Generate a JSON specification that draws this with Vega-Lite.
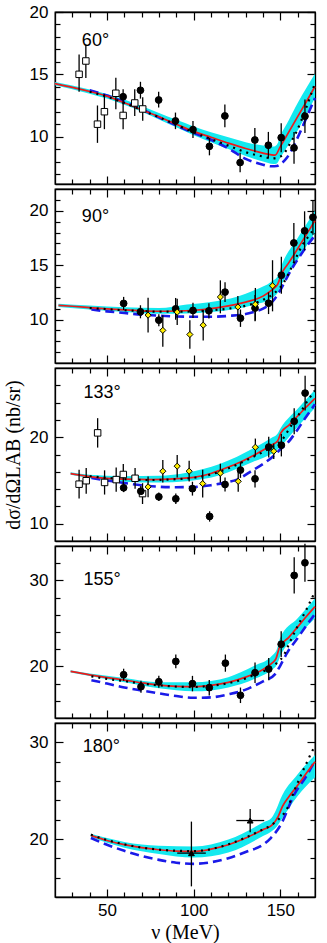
{
"$schema": "https://vega.github.io/schema/vega-lite/v6.json",
"padding": {"left": 2, "top": 2, "right": 0, "bottom": 0},
"spacing": 5,
"bounds": "flush",
"config": {
 "view": {"stroke": "black", "strokeWidth": 1.3},
 "axis": {"domainColor": "black", "domainWidth": 1.3, "tickColor": "black", "tickWidth": 1.2, "labelColor": "black", "labelFont": "Liberation Sans", "labelFontSize": 17, "labelFlush": false, "labelOverlap": false, "titleFont": "Liberation Serif, Times New Roman, serif", "titleFontSize": 20, "titleFontWeight": "normal", "titleColor": "black", "grid": false},
 "line": {"interpolate": "monotone"},
 "area": {"interpolate": "monotone"}
},
"datasets": {
 "band": [
  {"p":1,"x":20,"lo":14.13,"hi":14.38},{"p":1,"x":30,"lo":13.8,"hi":14.1},{"p":1,"x":40,"lo":13.45,"hi":13.78},{"p":1,"x":50,"lo":13.05,"hi":13.42},{"p":1,"x":60,"lo":12.55,"hi":12.97},{"p":1,"x":70,"lo":12.0,"hi":12.45},{"p":1,"x":80,"lo":11.38,"hi":11.9},{"p":1,"x":90,"lo":10.75,"hi":11.35},{"p":1,"x":100,"lo":10.12,"hi":10.82},{"p":1,"x":110,"lo":9.55,"hi":10.35},{"p":1,"x":120,"lo":9.0,"hi":9.95},{"p":1,"x":130,"lo":8.45,"hi":9.55},{"p":1,"x":140,"lo":8.0,"hi":9.28},{"p":1,"x":146,"lo":7.8,"hi":9.2},{"p":1,"x":148,"lo":7.85,"hi":9.35},{"p":1,"x":150,"lo":8.3,"hi":10.05},{"p":1,"x":155,"lo":9.4,"hi":11.35},{"p":1,"x":160,"lo":10.5,"hi":12.7},{"p":1,"x":165,"lo":11.8,"hi":13.9},{"p":1,"x":170,"lo":13.1,"hi":15.05},
  {"p":2,"x":22,"lo":11.15,"hi":11.45},{"p":2,"x":40,"lo":10.92,"hi":11.28},{"p":2,"x":60,"lo":10.7,"hi":11.12},{"p":2,"x":80,"lo":10.52,"hi":11.05},{"p":2,"x":96,"lo":10.55,"hi":11.38},{"p":2,"x":110,"lo":10.68,"hi":11.62},{"p":2,"x":125,"lo":10.98,"hi":12.1},{"p":2,"x":135,"lo":11.35,"hi":12.7},{"p":2,"x":145,"lo":11.95,"hi":13.5},{"p":2,"x":148.5,"lo":12.45,"hi":14.0},{"p":2,"x":151,"lo":13.3,"hi":15.1},{"p":2,"x":160,"lo":15.5,"hi":17.5},{"p":2,"x":170,"lo":18.0,"hi":20.0},
  {"p":3,"x":29,"lo":15.65,"hi":15.95},{"p":3,"x":40,"lo":15.25,"hi":15.65},{"p":3,"x":60,"lo":14.85,"hi":15.5},{"p":3,"x":80,"lo":14.75,"hi":15.55},{"p":3,"x":96,"lo":14.9,"hi":15.9},{"p":3,"x":115,"lo":15.6,"hi":16.9},{"p":3,"x":135,"lo":17.22,"hi":18.77},{"p":3,"x":145,"lo":18.1,"hi":19.95},{"p":3,"x":148,"lo":18.5,"hi":20.3},{"p":3,"x":150.3,"lo":18.95,"hi":21.1},{"p":3,"x":160,"lo":21.2,"hi":23.3},{"p":3,"x":170,"lo":23.4,"hi":25.5},
  {"p":4,"x":29,"lo":19.3,"hi":19.55},{"p":4,"x":40,"lo":18.87,"hi":19.17},{"p":4,"x":60,"lo":18.15,"hi":18.65},{"p":4,"x":80,"lo":17.45,"hi":18.15},{"p":4,"x":100,"lo":17.1,"hi":18.15},{"p":4,"x":120,"lo":17.55,"hi":18.75},{"p":4,"x":135,"lo":18.53,"hi":20.07},{"p":4,"x":145,"lo":19.6,"hi":21.2},{"p":4,"x":148,"lo":20.2,"hi":22.0},{"p":4,"x":150,"lo":21.2,"hi":23.36},{"p":4,"x":160,"lo":23.5,"hi":25.6},{"p":4,"x":170,"lo":25.6,"hi":27.9},
  {"p":5,"x":40.7,"lo":20.2,"hi":20.55},{"p":5,"x":50,"lo":19.6,"hi":20.1},{"p":5,"x":60,"lo":19.1,"hi":19.7},{"p":5,"x":80,"lo":18.45,"hi":19.3},{"p":5,"x":100,"lo":18.08,"hi":19.23},{"p":5,"x":120,"lo":18.6,"hi":19.95},{"p":5,"x":140,"lo":20.3,"hi":21.7},{"p":5,"x":145,"lo":20.8,"hi":22.2},{"p":5,"x":148,"lo":21.3,"hi":23.2},{"p":5,"x":150,"lo":21.83,"hi":24.1},{"p":5,"x":160,"lo":24.45,"hi":26.7},{"p":5,"x":170,"lo":26.4,"hi":28.7}
 ],
 "curves": [
  {"p":1,"c":"red","x":20,"y":14.25},{"p":1,"c":"red","x":30,"y":13.95},{"p":1,"c":"red","x":40,"y":13.62},{"p":1,"c":"red","x":50,"y":13.25},{"p":1,"c":"red","x":60,"y":12.72},{"p":1,"c":"red","x":70,"y":12.15},{"p":1,"c":"red","x":80,"y":11.6},{"p":1,"c":"red","x":90,"y":11.0},{"p":1,"c":"red","x":100,"y":10.42},{"p":1,"c":"red","x":110,"y":9.95},{"p":1,"c":"red","x":120,"y":9.48},{"p":1,"c":"red","x":130,"y":9.05},{"p":1,"c":"red","x":140,"y":8.68},{"p":1,"c":"red","x":145,"y":8.54},{"p":1,"c":"red","x":147,"y":8.52},{"p":1,"c":"red","x":150,"y":9.2},{"p":1,"c":"red","x":155,"y":10.4},{"p":1,"c":"red","x":160,"y":11.6},{"p":1,"c":"red","x":165,"y":12.8},{"p":1,"c":"red","x":170,"y":14.02},
  {"p":1,"c":"blue","x":40,"y":13.72},{"p":1,"c":"blue","x":50,"y":13.3},{"p":1,"c":"blue","x":60,"y":12.78},{"p":1,"c":"blue","x":70,"y":12.2},{"p":1,"c":"blue","x":80,"y":11.55},{"p":1,"c":"blue","x":90,"y":10.9},{"p":1,"c":"blue","x":100,"y":10.3},{"p":1,"c":"blue","x":110,"y":9.75},{"p":1,"c":"blue","x":120,"y":9.05},{"p":1,"c":"blue","x":130,"y":8.22},{"p":1,"c":"blue","x":140,"y":7.75},{"p":1,"c":"blue","x":145,"y":7.62},{"p":1,"c":"blue","x":148,"y":7.64},{"p":1,"c":"blue","x":151,"y":7.9},{"p":1,"c":"blue","x":154,"y":8.35},{"p":1,"c":"blue","x":160,"y":9.92},{"p":1,"c":"blue","x":165,"y":11.5},{"p":1,"c":"blue","x":170,"y":13.1},
  {"p":1,"c":"dot","x":40,"y":13.6},{"p":1,"c":"dot","x":50,"y":13.2},{"p":1,"c":"dot","x":60,"y":12.7},{"p":1,"c":"dot","x":70,"y":12.12},{"p":1,"c":"dot","x":80,"y":11.55},{"p":1,"c":"dot","x":90,"y":10.95},{"p":1,"c":"dot","x":100,"y":10.35},{"p":1,"c":"dot","x":110,"y":9.8},{"p":1,"c":"dot","x":120,"y":9.28},{"p":1,"c":"dot","x":130,"y":8.75},{"p":1,"c":"dot","x":140,"y":8.4},{"p":1,"c":"dot","x":145,"y":8.25},{"p":1,"c":"dot","x":148,"y":8.3},{"p":1,"c":"dot","x":152,"y":8.62},{"p":1,"c":"dot","x":155,"y":9.3},{"p":1,"c":"dot","x":159,"y":10.3},{"p":1,"c":"dot","x":165,"y":12.35},{"p":1,"c":"dot","x":170,"y":14.3},
  {"p":2,"c":"red","x":22,"y":11.3},{"p":2,"c":"red","x":30,"y":11.22},{"p":2,"c":"red","x":40,"y":11.1},{"p":2,"c":"red","x":50,"y":10.98},{"p":2,"c":"red","x":60,"y":10.88},{"p":2,"c":"red","x":70,"y":10.8},{"p":2,"c":"red","x":80,"y":10.76},{"p":2,"c":"red","x":90,"y":10.78},{"p":2,"c":"red","x":100,"y":10.85},{"p":2,"c":"red","x":110,"y":11.0},{"p":2,"c":"red","x":120,"y":11.25},{"p":2,"c":"red","x":130,"y":11.6},{"p":2,"c":"red","x":140,"y":12.15},{"p":2,"c":"red","x":145,"y":12.7},{"p":2,"c":"red","x":148.5,"y":13.25},{"p":2,"c":"red","x":151,"y":14.3},{"p":2,"c":"red","x":155,"y":15.25},{"p":2,"c":"red","x":160,"y":16.5},{"p":2,"c":"red","x":165,"y":17.8},{"p":2,"c":"red","x":170,"y":19.1},
  {"p":2,"c":"blue","x":41,"y":10.92},{"p":2,"c":"blue","x":50,"y":10.75},{"p":2,"c":"blue","x":60,"y":10.6},{"p":2,"c":"blue","x":70,"y":10.45},{"p":2,"c":"blue","x":80,"y":10.35},{"p":2,"c":"blue","x":90,"y":10.28},{"p":2,"c":"blue","x":100,"y":10.25},{"p":2,"c":"blue","x":110,"y":10.25},{"p":2,"c":"blue","x":120,"y":10.33},{"p":2,"c":"blue","x":130,"y":10.5},{"p":2,"c":"blue","x":135,"y":10.7},{"p":2,"c":"blue","x":140,"y":11.0},{"p":2,"c":"blue","x":146,"y":11.75},{"p":2,"c":"blue","x":150,"y":12.7},{"p":2,"c":"blue","x":152,"y":13.3},{"p":2,"c":"blue","x":156,"y":14.5},{"p":2,"c":"blue","x":162,"y":16.0},{"p":2,"c":"blue","x":170,"y":17.75},
  {"p":2,"c":"dot","x":40,"y":11.05},{"p":2,"c":"dot","x":50,"y":10.95},{"p":2,"c":"dot","x":60,"y":10.85},{"p":2,"c":"dot","x":70,"y":10.78},{"p":2,"c":"dot","x":80,"y":10.72},{"p":2,"c":"dot","x":90,"y":10.72},{"p":2,"c":"dot","x":100,"y":10.75},{"p":2,"c":"dot","x":110,"y":10.85},{"p":2,"c":"dot","x":120,"y":11.0},{"p":2,"c":"dot","x":130,"y":11.26},{"p":2,"c":"dot","x":140,"y":11.8},{"p":2,"c":"dot","x":145.5,"y":12.3},{"p":2,"c":"dot","x":152,"y":13.4},{"p":2,"c":"dot","x":156.5,"y":14.8},{"p":2,"c":"dot","x":162.8,"y":16.86},{"p":2,"c":"dot","x":167.6,"y":17.93},{"p":2,"c":"dot","x":170,"y":18.5},
  {"p":3,"c":"red","x":29,"y":15.8},{"p":3,"c":"red","x":40,"y":15.45},{"p":3,"c":"red","x":50,"y":15.25},{"p":3,"c":"red","x":60,"y":15.15},{"p":3,"c":"red","x":75,"y":15.1},{"p":3,"c":"red","x":90,"y":15.2},{"p":3,"c":"red","x":100,"y":15.35},{"p":3,"c":"red","x":110,"y":15.8},{"p":3,"c":"red","x":115.5,"y":16.2},{"p":3,"c":"red","x":125,"y":16.95},{"p":3,"c":"red","x":135,"y":17.95},{"p":3,"c":"red","x":145,"y":19.1},{"p":3,"c":"red","x":148.4,"y":19.55},{"p":3,"c":"red","x":150.3,"y":20.5},{"p":3,"c":"red","x":155,"y":21.4},{"p":3,"c":"red","x":160,"y":22.45},{"p":3,"c":"red","x":165,"y":23.5},{"p":3,"c":"red","x":170,"y":24.5},
  {"p":3,"c":"blue","x":41,"y":15.3},{"p":3,"c":"blue","x":50,"y":15.0},{"p":3,"c":"blue","x":60,"y":14.7},{"p":3,"c":"blue","x":70,"y":14.45},{"p":3,"c":"blue","x":80,"y":14.27},{"p":3,"c":"blue","x":90,"y":14.22},{"p":3,"c":"blue","x":100,"y":14.25},{"p":3,"c":"blue","x":110,"y":14.45},{"p":3,"c":"blue","x":118,"y":14.75},{"p":3,"c":"blue","x":125,"y":15.1},{"p":3,"c":"blue","x":135,"y":16.3},{"p":3,"c":"blue","x":140,"y":16.9},{"p":3,"c":"blue","x":147,"y":18.0},{"p":3,"c":"blue","x":150,"y":18.6},{"p":3,"c":"blue","x":154,"y":19.3},{"p":3,"c":"blue","x":160,"y":20.9},{"p":3,"c":"blue","x":165,"y":22.4},{"p":3,"c":"blue","x":170,"y":23.8},
  {"p":3,"c":"dot","x":40,"y":15.5},{"p":3,"c":"dot","x":50,"y":15.3},{"p":3,"c":"dot","x":60,"y":15.15},{"p":3,"c":"dot","x":75,"y":15.05},{"p":3,"c":"dot","x":90,"y":15.15},{"p":3,"c":"dot","x":100,"y":15.3},{"p":3,"c":"dot","x":110,"y":15.7},{"p":3,"c":"dot","x":120,"y":16.4},{"p":3,"c":"dot","x":130,"y":17.3},{"p":3,"c":"dot","x":140,"y":18.3},{"p":3,"c":"dot","x":145,"y":18.85},{"p":3,"c":"dot","x":148,"y":19.2},{"p":3,"c":"dot","x":151,"y":19.7},{"p":3,"c":"dot","x":154,"y":20.6},{"p":3,"c":"dot","x":158,"y":21.9},{"p":3,"c":"dot","x":162,"y":23.0},{"p":3,"c":"dot","x":166,"y":24.3},{"p":3,"c":"dot","x":170,"y":25.4},
  {"p":4,"c":"red","x":29,"y":19.42},{"p":4,"c":"red","x":40,"y":19.02},{"p":4,"c":"red","x":50,"y":18.7},{"p":4,"c":"red","x":60,"y":18.41},{"p":4,"c":"red","x":70,"y":18.1},{"p":4,"c":"red","x":80,"y":17.83},{"p":4,"c":"red","x":90,"y":17.68},{"p":4,"c":"red","x":100,"y":17.64},{"p":4,"c":"red","x":110,"y":17.8},{"p":4,"c":"red","x":120,"y":18.14},{"p":4,"c":"red","x":130,"y":18.75},{"p":4,"c":"red","x":135,"y":19.15},{"p":4,"c":"red","x":140,"y":19.65},{"p":4,"c":"red","x":145,"y":20.35},{"p":4,"c":"red","x":147.5,"y":20.9},{"p":4,"c":"red","x":149.5,"y":22.2},{"p":4,"c":"red","x":155,"y":23.4},{"p":4,"c":"red","x":160,"y":24.6},{"p":4,"c":"red","x":165,"y":25.8},{"p":4,"c":"red","x":170,"y":26.95},
  {"p":4,"c":"blue","x":41,"y":18.4},{"p":4,"c":"blue","x":50,"y":18.0},{"p":4,"c":"blue","x":60,"y":17.55},{"p":4,"c":"blue","x":70,"y":17.2},{"p":4,"c":"blue","x":80,"y":16.87},{"p":4,"c":"blue","x":90,"y":16.55},{"p":4,"c":"blue","x":100,"y":16.35},{"p":4,"c":"blue","x":110,"y":16.4},{"p":4,"c":"blue","x":120,"y":16.75},{"p":4,"c":"blue","x":130,"y":17.3},{"p":4,"c":"blue","x":135,"y":17.75},{"p":4,"c":"blue","x":140,"y":18.25},{"p":4,"c":"blue","x":147,"y":19.1},{"p":4,"c":"blue","x":150,"y":20.1},{"p":4,"c":"blue","x":154,"y":21.6},{"p":4,"c":"blue","x":160,"y":23.3},{"p":4,"c":"blue","x":165,"y":24.75},{"p":4,"c":"blue","x":170,"y":26.1},
  {"p":4,"c":"dot","x":41,"y":18.85},{"p":4,"c":"dot","x":50,"y":18.55},{"p":4,"c":"dot","x":60,"y":18.3},{"p":4,"c":"dot","x":70,"y":18.0},{"p":4,"c":"dot","x":80,"y":17.8},{"p":4,"c":"dot","x":90,"y":17.65},{"p":4,"c":"dot","x":100,"y":17.6},{"p":4,"c":"dot","x":110,"y":17.75},{"p":4,"c":"dot","x":120,"y":18.05},{"p":4,"c":"dot","x":130,"y":18.6},{"p":4,"c":"dot","x":135,"y":19.0},{"p":4,"c":"dot","x":143.5,"y":19.77},{"p":4,"c":"dot","x":148,"y":20.4},{"p":4,"c":"dot","x":152,"y":21.3},{"p":4,"c":"dot","x":155,"y":22.6},{"p":4,"c":"dot","x":159,"y":24.3},{"p":4,"c":"dot","x":165,"y":26.6},{"p":4,"c":"dot","x":170,"y":28.7},
  {"p":5,"c":"red","x":40.7,"y":20.38},{"p":5,"c":"red","x":50,"y":19.85},{"p":5,"c":"red","x":60,"y":19.41},{"p":5,"c":"red","x":70,"y":19.1},{"p":5,"c":"red","x":80,"y":18.89},{"p":5,"c":"red","x":90,"y":18.75},{"p":5,"c":"red","x":100,"y":18.71},{"p":5,"c":"red","x":110,"y":18.95},{"p":5,"c":"red","x":120,"y":19.41},{"p":5,"c":"red","x":130,"y":20.1},{"p":5,"c":"red","x":140,"y":20.97},{"p":5,"c":"red","x":145,"y":21.4},{"p":5,"c":"red","x":148.8,"y":22.35},{"p":5,"c":"red","x":151.3,"y":23.4},{"p":5,"c":"red","x":155,"y":24.4},{"p":5,"c":"red","x":160,"y":25.55},{"p":5,"c":"red","x":165,"y":26.8},{"p":5,"c":"red","x":170,"y":28.0},
  {"p":5,"c":"blue","x":40.7,"y":20.1},{"p":5,"c":"blue","x":50,"y":19.4},{"p":5,"c":"blue","x":60,"y":18.78},{"p":5,"c":"blue","x":70,"y":18.25},{"p":5,"c":"blue","x":80,"y":17.84},{"p":5,"c":"blue","x":90,"y":17.55},{"p":5,"c":"blue","x":100,"y":17.43},{"p":5,"c":"blue","x":110,"y":17.6},{"p":5,"c":"blue","x":120,"y":18.02},{"p":5,"c":"blue","x":130,"y":18.65},{"p":5,"c":"blue","x":140,"y":19.41},{"p":5,"c":"blue","x":144.5,"y":20.1},{"p":5,"c":"blue","x":150.3,"y":21.49},{"p":5,"c":"blue","x":158,"y":24.6},{"p":5,"c":"blue","x":165,"y":26.5},{"p":5,"c":"blue","x":170,"y":28.1},
  {"p":5,"c":"dot","x":40.7,"y":20.45},{"p":5,"c":"dot","x":50,"y":19.9},{"p":5,"c":"dot","x":60,"y":19.45},{"p":5,"c":"dot","x":80,"y":18.9},{"p":5,"c":"dot","x":100,"y":18.75},{"p":5,"c":"dot","x":120,"y":19.45},{"p":5,"c":"dot","x":130,"y":20.15},{"p":5,"c":"dot","x":140,"y":21.0},{"p":5,"c":"dot","x":145,"y":21.45},{"p":5,"c":"dot","x":149.3,"y":22.1},{"p":5,"c":"dot","x":154.2,"y":23.23},{"p":5,"c":"dot","x":158,"y":24.96},{"p":5,"c":"dot","x":163,"y":27.04},{"p":5,"c":"dot","x":165.3,"y":27.92},{"p":5,"c":"dot","x":168,"y":28.96},{"p":5,"c":"dot","x":170,"y":29.6}
 ],
 "pts": [
  {"p":1,"s":"sq","x":33.9,"y":15.0,"lo":13.6,"hi":16.6},{"p":1,"s":"sq","x":37.8,"y":16.07,"lo":14.7,"hi":17.4},{"p":1,"s":"sq","x":44.5,"y":11.0,"lo":9.5,"hi":12.5},{"p":1,"s":"sq","x":48.5,"y":12.0,"lo":10.6,"hi":13.4},{"p":1,"s":"sq","x":55.1,"y":13.48,"lo":12.2,"hi":14.73},{"p":1,"s":"sq","x":59.3,"y":11.7,"lo":10.6,"hi":12.8},{"p":1,"s":"sq","x":66.0,"y":12.7,"lo":11.65,"hi":13.8},{"p":1,"s":"sq","x":70.6,"y":12.22,"lo":11.27,"hi":13.17},
  {"p":1,"s":"circ","x":59.3,"y":13.2,"lo":12.6,"hi":13.8},{"p":1,"s":"circ","x":69.3,"y":13.72,"lo":13.05,"hi":14.4},{"p":1,"s":"circ","x":79.8,"y":12.94,"lo":12.33,"hi":13.6},{"p":1,"s":"circ","x":89.5,"y":11.26,"lo":10.6,"hi":11.93},{"p":1,"s":"circ","x":99.6,"y":10.57,"lo":9.9,"hi":11.25},{"p":1,"s":"circ","x":109.1,"y":9.22,"lo":8.5,"hi":9.9},{"p":1,"s":"circ","x":118.0,"y":11.66,"lo":10.76,"hi":12.58},{"p":1,"s":"circ","x":126.8,"y":7.92,"lo":7.15,"hi":8.7},{"p":1,"s":"circ","x":135.3,"y":9.73,"lo":8.75,"hi":10.7},{"p":1,"s":"circ","x":143.1,"y":9.31,"lo":8.25,"hi":10.38},{"p":1,"s":"circ","x":150.5,"y":9.92,"lo":8.75,"hi":11.08},{"p":1,"s":"circ","x":157.9,"y":9.1,"lo":7.83,"hi":10.37},{"p":1,"s":"circ","x":164.2,"y":11.64,"lo":10.3,"hi":12.98},
  {"p":2,"s":"circ","x":59.6,"y":11.48,"lo":10.88,"hi":12.08},{"p":2,"s":"circ","x":69.3,"y":10.71,"lo":10.11,"hi":11.31},{"p":2,"s":"circ","x":79.9,"y":9.94,"lo":9.39,"hi":10.49},{"p":2,"s":"circ","x":89.6,"y":10.98,"lo":9.98,"hi":11.98},{"p":2,"s":"circ","x":99.6,"y":10.83,"lo":10.13,"hi":11.53},{"p":2,"s":"circ","x":108.8,"y":10.8,"lo":10.1,"hi":11.5},{"p":2,"s":"circ","x":118.1,"y":12.52,"lo":11.62,"hi":13.42},{"p":2,"s":"circ","x":127.0,"y":10.12,"lo":9.32,"hi":10.92},{"p":2,"s":"circ","x":135.4,"y":11.05,"lo":9.85,"hi":12.25},{"p":2,"s":"circ","x":143.2,"y":11.5,"lo":10.5,"hi":12.5},{"p":2,"s":"circ","x":150.6,"y":14.07,"lo":12.37,"hi":15.77},{"p":2,"s":"circ","x":157.8,"y":17.04,"lo":15.2,"hi":18.88},{"p":2,"s":"circ","x":164.0,"y":18.15,"lo":16.35,"hi":19.95},{"p":2,"s":"circ","x":168.8,"y":19.4,"lo":17.8,"hi":21.0},
  {"p":2,"s":"dia","x":73.7,"y":10.4,"lo":8.8,"hi":12.0},{"p":2,"s":"dia","x":82.2,"y":9.0,"lo":7.5,"hi":10.4},{"p":2,"s":"dia","x":90.5,"y":10.68,"lo":9.5,"hi":11.9},{"p":2,"s":"dia","x":97.8,"y":8.62,"lo":7.32,"hi":9.92},{"p":2,"s":"dia","x":105.5,"y":9.48,"lo":8.08,"hi":10.88},{"p":2,"s":"dia","x":115.4,"y":12.07,"lo":10.57,"hi":13.6},{"p":2,"s":"dia","x":125.5,"y":11.15,"lo":10.15,"hi":12.15},{"p":2,"s":"dia","x":135.6,"y":11.4,"lo":9.9,"hi":12.9},{"p":2,"s":"dia","x":145.5,"y":13.1,"lo":10.75,"hi":15.45},
  {"p":3,"s":"sq","x":33.9,"y":14.57,"lo":12.9,"hi":16.25},{"p":3,"s":"sq","x":38.0,"y":14.97,"lo":13.45,"hi":16.45},{"p":3,"s":"sq","x":44.6,"y":20.5,"lo":18.8,"hi":22.2},{"p":3,"s":"sq","x":48.6,"y":14.77,"lo":13.37,"hi":16.17},{"p":3,"s":"sq","x":55.3,"y":15.1,"lo":13.7,"hi":16.5},{"p":3,"s":"sq","x":59.4,"y":15.69,"lo":14.49,"hi":16.89},{"p":3,"s":"sq","x":66.2,"y":15.25,"lo":14.05,"hi":16.45},{"p":3,"s":"sq","x":70.5,"y":13.48,"lo":12.28,"hi":14.68},
  {"p":3,"s":"circ","x":59.6,"y":14.15,"lo":13.65,"hi":14.65},{"p":3,"s":"circ","x":69.5,"y":13.75,"lo":13.15,"hi":14.35},{"p":3,"s":"circ","x":79.9,"y":13.11,"lo":12.61,"hi":13.61},{"p":3,"s":"circ","x":89.7,"y":12.88,"lo":12.28,"hi":13.48},{"p":3,"s":"circ","x":99.3,"y":14.05,"lo":13.25,"hi":14.85},{"p":3,"s":"circ","x":109.2,"y":10.84,"lo":10.24,"hi":11.44},{"p":3,"s":"circ","x":118.1,"y":14.53,"lo":13.73,"hi":15.33},{"p":3,"s":"circ","x":127.0,"y":16.2,"lo":15.3,"hi":17.1},{"p":3,"s":"circ","x":135.4,"y":15.19,"lo":14.19,"hi":16.19},{"p":3,"s":"circ","x":143.3,"y":18.86,"lo":17.66,"hi":20.06},{"p":3,"s":"circ","x":150.6,"y":19.08,"lo":17.78,"hi":20.38},{"p":3,"s":"circ","x":158.0,"y":21.84,"lo":20.34,"hi":23.34},{"p":3,"s":"circ","x":164.3,"y":25.1,"lo":23.1,"hi":27.1},
  {"p":3,"s":"dia","x":73.7,"y":14.26,"lo":13.06,"hi":15.46},{"p":3,"s":"dia","x":82.2,"y":16.07,"lo":14.77,"hi":17.37},{"p":3,"s":"dia","x":90.5,"y":16.65,"lo":15.35,"hi":17.95},{"p":3,"s":"dia","x":97.4,"y":16.07,"lo":14.87,"hi":17.27},{"p":3,"s":"dia","x":105.2,"y":14.63,"lo":13.03,"hi":16.23},{"p":3,"s":"dia","x":115.4,"y":15.84,"lo":14.74,"hi":16.94},{"p":3,"s":"dia","x":125.7,"y":14.9,"lo":13.7,"hi":16.1},{"p":3,"s":"dia","x":135.6,"y":18.84,"lo":17.84,"hi":19.84},{"p":3,"s":"dia","x":146.2,"y":18.38,"lo":17.48,"hi":19.28},
  {"p":4,"s":"circ","x":59.6,"y":19.03,"lo":18.33,"hi":19.73},{"p":4,"s":"circ","x":69.6,"y":17.64,"lo":16.94,"hi":18.34},{"p":4,"s":"circ","x":79.9,"y":18.22,"lo":17.52,"hi":18.92},{"p":4,"s":"circ","x":89.7,"y":20.58,"lo":19.78,"hi":21.38},{"p":4,"s":"circ","x":99.3,"y":18.0,"lo":17.1,"hi":18.9},{"p":4,"s":"circ","x":109.0,"y":17.53,"lo":16.63,"hi":18.43},{"p":4,"s":"circ","x":118.3,"y":20.38,"lo":19.38,"hi":21.38},{"p":4,"s":"circ","x":127.0,"y":16.64,"lo":15.74,"hi":17.54},{"p":4,"s":"circ","x":135.4,"y":19.26,"lo":18.06,"hi":20.46},{"p":4,"s":"circ","x":143.3,"y":19.69,"lo":18.39,"hi":20.99},{"p":4,"s":"circ","x":150.5,"y":22.58,"lo":21.08,"hi":24.08},{"p":4,"s":"circ","x":158.0,"y":30.58,"lo":28.48,"hi":32.68},{"p":4,"s":"circ","x":164.2,"y":32.05,"lo":29.85,"hi":34.25},
  {"p":5,"s":"tri","x":98.7,"y":18.54,"lo":15.1,"hi":21.8,"xlo":90.5,"xhi":107.0},{"p":5,"s":"tri","x":132.6,"y":21.91,"lo":20.7,"hi":23.1,"xlo":124.6,"xhi":140.7}
 ]
},
"vconcat": [
 {"width": 260, "height": 172,
  "layer": [
   {"data": {"name": "band"}, "transform": [{"filter": "datum.p == 1"}], "mark": {"type": "area", "color": "#14e9ef"},
    "encoding": {"x": {"field": "x", "type": "quantitative", "scale": {"domain": [20, 170], "nice": false, "zero": false}, "axis": {"orient": "bottom", "values": [30,40,50,60,70,80,90,100,110,120,130,140,150,160], "labels": false, "tickSize": {"condition": {"test": "datum.value % 50 === 0", "value": -8}, "value": -5}, "title": null}},
                 "y": {"field": "lo", "type": "quantitative", "scale": {"domain": [6.2, 20], "nice": false, "zero": false}, "axis": {"orient": "left", "values": [7,8,9,10,11,12,13,14,15,16,17,18,19,20], "labelExpr": "datum.value % 5 === 0 ? datum.label : ''", "labelPadding": 15, "tickSize": {"condition": {"test": "datum.value % 5 === 0", "value": -8}, "value": -5}, "title": null}},
                 "y2": {"field": "hi"}}},
   {"data": {"name": "curves"}, "transform": [{"filter": "datum.p == 1 && datum.c == 'blue'"}], "mark": {"type": "line", "color": "#1a1ae8", "strokeWidth": 2.6, "strokeDash": [9, 5]},
    "encoding": {"x": {"field": "x", "type": "quantitative", "axis": {"orient": "top", "values": [30,40,50,60,70,80,90,100,110,120,130,140,150,160], "labels": false, "tickSize": {"condition": {"test": "datum.value % 50 === 0", "value": -8}, "value": -5}, "title": null}},
                 "y": {"field": "y", "type": "quantitative", "axis": {"orient": "right", "values": [7,8,9,10,11,12,13,14,15,16,17,18,19,20], "labels": false, "tickSize": {"condition": {"test": "datum.value % 5 === 0", "value": -8}, "value": -5}, "title": null}}}},
   {"data": {"name": "curves"}, "transform": [{"filter": "datum.p == 1 && datum.c == 'red'"}], "mark": {"type": "line", "color": "#ee1a1a", "strokeWidth": 1.7},
    "encoding": {"x": {"field": "x", "type": "quantitative", "axis": null}, "y": {"field": "y", "type": "quantitative", "axis": null}}},
   {"data": {"name": "curves"}, "transform": [{"filter": "datum.p == 1 && datum.c == 'dot'"}], "mark": {"type": "line", "color": "black", "strokeWidth": 2.2, "strokeDash": [2, 5]},
    "encoding": {"x": {"field": "x", "type": "quantitative", "axis": null}, "y": {"field": "y", "type": "quantitative", "axis": null}}},
   {"data": {"name": "pts"}, "transform": [{"filter": "datum.p == 1"}], "mark": {"type": "rule", "color": "black", "strokeWidth": 1.3},
    "encoding": {"x": {"field": "x", "type": "quantitative", "axis": null}, "y": {"field": "lo", "type": "quantitative", "axis": null}, "y2": {"field": "hi"}}},
   {"data": {"name": "pts"}, "transform": [{"filter": "datum.p == 1"}], "mark": {"type": "point", "filled": true, "opacity": 1, "stroke": "black", "strokeWidth": 1},
    "encoding": {"x": {"field": "x", "type": "quantitative", "axis": null}, "y": {"field": "y", "type": "quantitative", "axis": null},
                 "shape": {"field": "s", "type": "nominal", "scale": {"domain": ["circ","sq","dia","tri"], "range": ["circle","square","diamond","triangle-up"]}, "legend": null},
                 "fill": {"field": "s", "type": "nominal", "scale": {"domain": ["circ","sq","dia","tri"], "range": ["black","white","#ffee00","black"]}, "legend": null},
                 "size": {"field": "s", "type": "nominal", "scale": {"domain": ["circ","sq","dia","tri"], "range": [46,34,64,80]}, "legend": null}}},
   {"data": {"values": [{}]}, "mark": {"type": "text", "align": "left", "baseline": "middle", "font": "Liberation Sans", "fontSize": 18, "color": "black"},
    "encoding": {"x": {"datum": 35.5, "type": "quantitative", "axis": null}, "y": {"datum": 17.7, "type": "quantitative", "axis": null}, "text": {"value": "60°"}}}
  ],
  "resolve": {"axis": {"x": "independent", "y": "independent"}}},
 {"width": 260, "height": 174,
  "layer": [
   {"data": {"name": "band"}, "transform": [{"filter": "datum.p == 2"}], "mark": {"type": "area", "color": "#14e9ef"},
    "encoding": {"x": {"field": "x", "type": "quantitative", "scale": {"domain": [20, 170], "nice": false, "zero": false}, "axis": {"orient": "bottom", "values": [30,40,50,60,70,80,90,100,110,120,130,140,150,160], "labels": false, "tickSize": {"condition": {"test": "datum.value % 50 === 0", "value": -8}, "value": -5}, "title": null}},
                 "y": {"field": "lo", "type": "quantitative", "scale": {"domain": [6, 22], "nice": false, "zero": false}, "axis": {"orient": "left", "values": [7,8,9,10,11,12,13,14,15,16,17,18,19,20,21], "labelExpr": "datum.value % 5 === 0 ? datum.label : ''", "labelPadding": 15, "tickSize": {"condition": {"test": "datum.value % 5 === 0", "value": -8}, "value": -5}, "title": null}},
                 "y2": {"field": "hi"}}},
   {"data": {"name": "curves"}, "transform": [{"filter": "datum.p == 2 && datum.c == 'blue'"}], "mark": {"type": "line", "color": "#1a1ae8", "strokeWidth": 2.6, "strokeDash": [9, 5]},
    "encoding": {"x": {"field": "x", "type": "quantitative", "axis": {"orient": "top", "values": [30,40,50,60,70,80,90,100,110,120,130,140,150,160], "labels": false, "tickSize": {"condition": {"test": "datum.value % 50 === 0", "value": -8}, "value": -5}, "title": null}},
                 "y": {"field": "y", "type": "quantitative", "axis": {"orient": "right", "values": [7,8,9,10,11,12,13,14,15,16,17,18,19,20,21], "labels": false, "tickSize": {"condition": {"test": "datum.value % 5 === 0", "value": -8}, "value": -5}, "title": null}}}},
   {"data": {"name": "curves"}, "transform": [{"filter": "datum.p == 2 && datum.c == 'red'"}], "mark": {"type": "line", "color": "#ee1a1a", "strokeWidth": 1.7},
    "encoding": {"x": {"field": "x", "type": "quantitative", "axis": null}, "y": {"field": "y", "type": "quantitative", "axis": null}}},
   {"data": {"name": "curves"}, "transform": [{"filter": "datum.p == 2 && datum.c == 'dot'"}], "mark": {"type": "line", "color": "black", "strokeWidth": 2.2, "strokeDash": [2, 5]},
    "encoding": {"x": {"field": "x", "type": "quantitative", "axis": null}, "y": {"field": "y", "type": "quantitative", "axis": null}}},
   {"data": {"name": "pts"}, "transform": [{"filter": "datum.p == 2"}], "mark": {"type": "rule", "color": "black", "strokeWidth": 1.3},
    "encoding": {"x": {"field": "x", "type": "quantitative", "axis": null}, "y": {"field": "lo", "type": "quantitative", "axis": null}, "y2": {"field": "hi"}}},
   {"data": {"name": "pts"}, "transform": [{"filter": "datum.p == 2"}], "mark": {"type": "point", "filled": true, "opacity": 1, "stroke": "black", "strokeWidth": 1},
    "encoding": {"x": {"field": "x", "type": "quantitative", "axis": null}, "y": {"field": "y", "type": "quantitative", "axis": null},
                 "shape": {"field": "s", "type": "nominal", "scale": {"domain": ["circ","sq","dia","tri"], "range": ["circle","square","diamond","triangle-up"]}, "legend": null},
                 "fill": {"field": "s", "type": "nominal", "scale": {"domain": ["circ","sq","dia","tri"], "range": ["black","white","#ffee00","black"]}, "legend": null},
                 "size": {"field": "s", "type": "nominal", "scale": {"domain": ["circ","sq","dia","tri"], "range": [46,34,64,80]}, "legend": null}}},
   {"data": {"values": [{}]}, "mark": {"type": "text", "align": "left", "baseline": "middle", "font": "Liberation Sans", "fontSize": 18, "color": "black"},
    "encoding": {"x": {"datum": 35.5, "type": "quantitative", "axis": null}, "y": {"datum": 19.47, "type": "quantitative", "axis": null}, "text": {"value": "90°"}}}
  ],
  "resolve": {"axis": {"x": "independent", "y": "independent"}}},
 {"width": 260, "height": 173,
  "layer": [
   {"data": {"name": "band"}, "transform": [{"filter": "datum.p == 3"}], "mark": {"type": "area", "color": "#14e9ef"},
    "encoding": {"x": {"field": "x", "type": "quantitative", "scale": {"domain": [20, 170], "nice": false, "zero": false}, "axis": {"orient": "bottom", "values": [30,40,50,60,70,80,90,100,110,120,130,140,150,160], "labels": false, "tickSize": {"condition": {"test": "datum.value % 50 === 0", "value": -8}, "value": -5}, "title": null}},
                 "y": {"field": "lo", "type": "quantitative", "scale": {"domain": [8, 28], "nice": false, "zero": false}, "axis": {"orient": "left", "values": [10,12,14,16,18,20,22,24,26], "labelExpr": "datum.value % 10 === 0 ? datum.label : ''", "labelPadding": 15, "tickSize": {"condition": {"test": "datum.value % 10 === 0", "value": -8}, "value": -5}, "title": "dσ/dΩLAB (nb/sr)", "titleFont": "Liberation Serif, Times New Roman, serif", "titlePadding": 6}},
                 "y2": {"field": "hi"}}},
   {"data": {"name": "curves"}, "transform": [{"filter": "datum.p == 3 && datum.c == 'blue'"}], "mark": {"type": "line", "color": "#1a1ae8", "strokeWidth": 2.6, "strokeDash": [9, 5]},
    "encoding": {"x": {"field": "x", "type": "quantitative", "axis": {"orient": "top", "values": [30,40,50,60,70,80,90,100,110,120,130,140,150,160], "labels": false, "tickSize": {"condition": {"test": "datum.value % 50 === 0", "value": -8}, "value": -5}, "title": null}},
                 "y": {"field": "y", "type": "quantitative", "axis": {"orient": "right", "values": [10,12,14,16,18,20,22,24,26], "labels": false, "tickSize": {"condition": {"test": "datum.value % 10 === 0", "value": -8}, "value": -5}, "title": null}}}},
   {"data": {"name": "curves"}, "transform": [{"filter": "datum.p == 3 && datum.c == 'red'"}], "mark": {"type": "line", "color": "#ee1a1a", "strokeWidth": 1.7},
    "encoding": {"x": {"field": "x", "type": "quantitative", "axis": null}, "y": {"field": "y", "type": "quantitative", "axis": null}}},
   {"data": {"name": "curves"}, "transform": [{"filter": "datum.p == 3 && datum.c == 'dot'"}], "mark": {"type": "line", "color": "black", "strokeWidth": 2.2, "strokeDash": [2, 5]},
    "encoding": {"x": {"field": "x", "type": "quantitative", "axis": null}, "y": {"field": "y", "type": "quantitative", "axis": null}}},
   {"data": {"name": "pts"}, "transform": [{"filter": "datum.p == 3"}], "mark": {"type": "rule", "color": "black", "strokeWidth": 1.3},
    "encoding": {"x": {"field": "x", "type": "quantitative", "axis": null}, "y": {"field": "lo", "type": "quantitative", "axis": null}, "y2": {"field": "hi"}}},
   {"data": {"name": "pts"}, "transform": [{"filter": "datum.p == 3"}], "mark": {"type": "point", "filled": true, "opacity": 1, "stroke": "black", "strokeWidth": 1},
    "encoding": {"x": {"field": "x", "type": "quantitative", "axis": null}, "y": {"field": "y", "type": "quantitative", "axis": null},
                 "shape": {"field": "s", "type": "nominal", "scale": {"domain": ["circ","sq","dia","tri"], "range": ["circle","square","diamond","triangle-up"]}, "legend": null},
                 "fill": {"field": "s", "type": "nominal", "scale": {"domain": ["circ","sq","dia","tri"], "range": ["black","white","#ffee00","black"]}, "legend": null},
                 "size": {"field": "s", "type": "nominal", "scale": {"domain": ["circ","sq","dia","tri"], "range": [46,34,64,80]}, "legend": null}}},
   {"data": {"values": [{}]}, "mark": {"type": "text", "align": "left", "baseline": "middle", "font": "Liberation Sans", "fontSize": 18, "color": "black"},
    "encoding": {"x": {"datum": 36.4, "type": "quantitative", "axis": null}, "y": {"datum": 25.1, "type": "quantitative", "axis": null}, "text": {"value": "133°"}}}
  ],
  "resolve": {"axis": {"x": "independent", "y": "independent"}}},
 {"width": 260, "height": 172,
  "layer": [
   {"data": {"name": "band"}, "transform": [{"filter": "datum.p == 4"}], "mark": {"type": "area", "color": "#14e9ef"},
    "encoding": {"x": {"field": "x", "type": "quantitative", "scale": {"domain": [20, 170], "nice": false, "zero": false}, "axis": {"orient": "bottom", "values": [30,40,50,60,70,80,90,100,110,120,130,140,150,160], "labels": false, "tickSize": {"condition": {"test": "datum.value % 50 === 0", "value": -8}, "value": -5}, "title": null}},
                 "y": {"field": "lo", "type": "quantitative", "scale": {"domain": [14, 34], "nice": false, "zero": false}, "axis": {"orient": "left", "values": [16,18,20,22,24,26,28,30,32], "labelExpr": "datum.value % 10 === 0 ? datum.label : ''", "labelPadding": 15, "tickSize": {"condition": {"test": "datum.value % 10 === 0", "value": -8}, "value": -5}, "title": null}},
                 "y2": {"field": "hi"}}},
   {"data": {"name": "curves"}, "transform": [{"filter": "datum.p == 4 && datum.c == 'blue'"}], "mark": {"type": "line", "color": "#1a1ae8", "strokeWidth": 2.6, "strokeDash": [9, 5]},
    "encoding": {"x": {"field": "x", "type": "quantitative", "axis": {"orient": "top", "values": [30,40,50,60,70,80,90,100,110,120,130,140,150,160], "labels": false, "tickSize": {"condition": {"test": "datum.value % 50 === 0", "value": -8}, "value": -5}, "title": null}},
                 "y": {"field": "y", "type": "quantitative", "axis": {"orient": "right", "values": [16,18,20,22,24,26,28,30,32], "labels": false, "tickSize": {"condition": {"test": "datum.value % 10 === 0", "value": -8}, "value": -5}, "title": null}}}},
   {"data": {"name": "curves"}, "transform": [{"filter": "datum.p == 4 && datum.c == 'red'"}], "mark": {"type": "line", "color": "#ee1a1a", "strokeWidth": 1.7},
    "encoding": {"x": {"field": "x", "type": "quantitative", "axis": null}, "y": {"field": "y", "type": "quantitative", "axis": null}}},
   {"data": {"name": "curves"}, "transform": [{"filter": "datum.p == 4 && datum.c == 'dot'"}], "mark": {"type": "line", "color": "black", "strokeWidth": 2.2, "strokeDash": [2, 5]},
    "encoding": {"x": {"field": "x", "type": "quantitative", "axis": null}, "y": {"field": "y", "type": "quantitative", "axis": null}}},
   {"data": {"name": "pts"}, "transform": [{"filter": "datum.p == 4"}], "mark": {"type": "rule", "color": "black", "strokeWidth": 1.3},
    "encoding": {"x": {"field": "x", "type": "quantitative", "axis": null}, "y": {"field": "lo", "type": "quantitative", "axis": null}, "y2": {"field": "hi"}}},
   {"data": {"name": "pts"}, "transform": [{"filter": "datum.p == 4"}], "mark": {"type": "point", "filled": true, "opacity": 1, "stroke": "black", "strokeWidth": 1},
    "encoding": {"x": {"field": "x", "type": "quantitative", "axis": null}, "y": {"field": "y", "type": "quantitative", "axis": null},
                 "shape": {"field": "s", "type": "nominal", "scale": {"domain": ["circ","sq","dia","tri"], "range": ["circle","square","diamond","triangle-up"]}, "legend": null},
                 "fill": {"field": "s", "type": "nominal", "scale": {"domain": ["circ","sq","dia","tri"], "range": ["black","white","#ffee00","black"]}, "legend": null},
                 "size": {"field": "s", "type": "nominal", "scale": {"domain": ["circ","sq","dia","tri"], "range": [46,34,64,80]}, "legend": null}}},
   {"data": {"values": [{}]}, "mark": {"type": "text", "align": "left", "baseline": "middle", "font": "Liberation Sans", "fontSize": 18, "color": "black"},
    "encoding": {"x": {"datum": 36.4, "type": "quantitative", "axis": null}, "y": {"datum": 30.0, "type": "quantitative", "axis": null}, "text": {"value": "155°"}}}
  ],
  "resolve": {"axis": {"x": "independent", "y": "independent"}}},
 {"width": 260, "height": 174,
  "layer": [
   {"data": {"name": "band"}, "transform": [{"filter": "datum.p == 5"}], "mark": {"type": "area", "color": "#14e9ef"},
    "encoding": {"x": {"field": "x", "type": "quantitative", "scale": {"domain": [20, 170], "nice": false, "zero": false}, "axis": {"orient": "bottom", "values": [30,40,50,60,70,80,90,100,110,120,130,140,150,160], "labelExpr": "datum.value % 50 === 0 ? datum.label : ''", "labelPadding": 13, "tickSize": {"condition": {"test": "datum.value % 50 === 0", "value": -8}, "value": -5}, "title": "ν (MeV)", "titleFont": "Liberation Serif, Times New Roman, serif", "titlePadding": 1}},
                 "y": {"field": "lo", "type": "quantitative", "scale": {"domain": [14, 32], "nice": false, "zero": false}, "axis": {"orient": "left", "values": [16,18,20,22,24,26,28,30], "labelExpr": "datum.value % 10 === 0 ? datum.label : ''", "labelPadding": 15, "tickSize": {"condition": {"test": "datum.value % 10 === 0", "value": -8}, "value": -5}, "title": null}},
                 "y2": {"field": "hi"}}},
   {"data": {"name": "curves"}, "transform": [{"filter": "datum.p == 5 && datum.c == 'blue'"}], "mark": {"type": "line", "color": "#1a1ae8", "strokeWidth": 2.6, "strokeDash": [9, 5]},
    "encoding": {"x": {"field": "x", "type": "quantitative", "axis": {"orient": "top", "values": [30,40,50,60,70,80,90,100,110,120,130,140,150,160], "labels": false, "tickSize": {"condition": {"test": "datum.value % 50 === 0", "value": -8}, "value": -5}, "title": null}},
                 "y": {"field": "y", "type": "quantitative", "axis": {"orient": "right", "values": [16,18,20,22,24,26,28,30], "labels": false, "tickSize": {"condition": {"test": "datum.value % 10 === 0", "value": -8}, "value": -5}, "title": null}}}},
   {"data": {"name": "curves"}, "transform": [{"filter": "datum.p == 5 && datum.c == 'red'"}], "mark": {"type": "line", "color": "#ee1a1a", "strokeWidth": 1.7},
    "encoding": {"x": {"field": "x", "type": "quantitative", "axis": null}, "y": {"field": "y", "type": "quantitative", "axis": null}}},
   {"data": {"name": "curves"}, "transform": [{"filter": "datum.p == 5 && datum.c == 'dot'"}], "mark": {"type": "line", "color": "black", "strokeWidth": 2.2, "strokeDash": [2, 5]},
    "encoding": {"x": {"field": "x", "type": "quantitative", "axis": null}, "y": {"field": "y", "type": "quantitative", "axis": null}}},
   {"data": {"name": "pts"}, "transform": [{"filter": "datum.p == 5"}], "mark": {"type": "rule", "color": "black", "strokeWidth": 1.3},
    "encoding": {"x": {"field": "x", "type": "quantitative", "axis": null}, "y": {"field": "lo", "type": "quantitative", "axis": null}, "y2": {"field": "hi"}}},
   {"data": {"name": "pts"}, "transform": [{"filter": "datum.p == 5"}], "mark": {"type": "rule", "color": "black", "strokeWidth": 1.3},
    "encoding": {"x": {"field": "xlo", "type": "quantitative", "axis": null}, "x2": {"field": "xhi"}, "y": {"field": "y", "type": "quantitative", "axis": null}}},
   {"data": {"name": "pts"}, "transform": [{"filter": "datum.p == 5"}], "mark": {"type": "point", "filled": true, "opacity": 1, "stroke": "black", "strokeWidth": 1},
    "encoding": {"x": {"field": "x", "type": "quantitative", "axis": null}, "y": {"field": "y", "type": "quantitative", "axis": null},
                 "shape": {"field": "s", "type": "nominal", "scale": {"domain": ["circ","sq","dia","tri"], "range": ["circle","square","diamond","triangle-up"]}, "legend": null},
                 "fill": {"field": "s", "type": "nominal", "scale": {"domain": ["circ","sq","dia","tri"], "range": ["black","white","#ffee00","black"]}, "legend": null},
                 "size": {"field": "s", "type": "nominal", "scale": {"domain": ["circ","sq","dia","tri"], "range": [46,34,64,80]}, "legend": null}}},
   {"data": {"values": [{}]}, "mark": {"type": "text", "align": "left", "baseline": "middle", "font": "Liberation Sans", "fontSize": 18, "color": "black"},
    "encoding": {"x": {"datum": 36.0, "type": "quantitative", "axis": null}, "y": {"datum": 29.5, "type": "quantitative", "axis": null}, "text": {"value": "180°"}}}
  ],
  "resolve": {"axis": {"x": "independent", "y": "independent"}}}
]
}
